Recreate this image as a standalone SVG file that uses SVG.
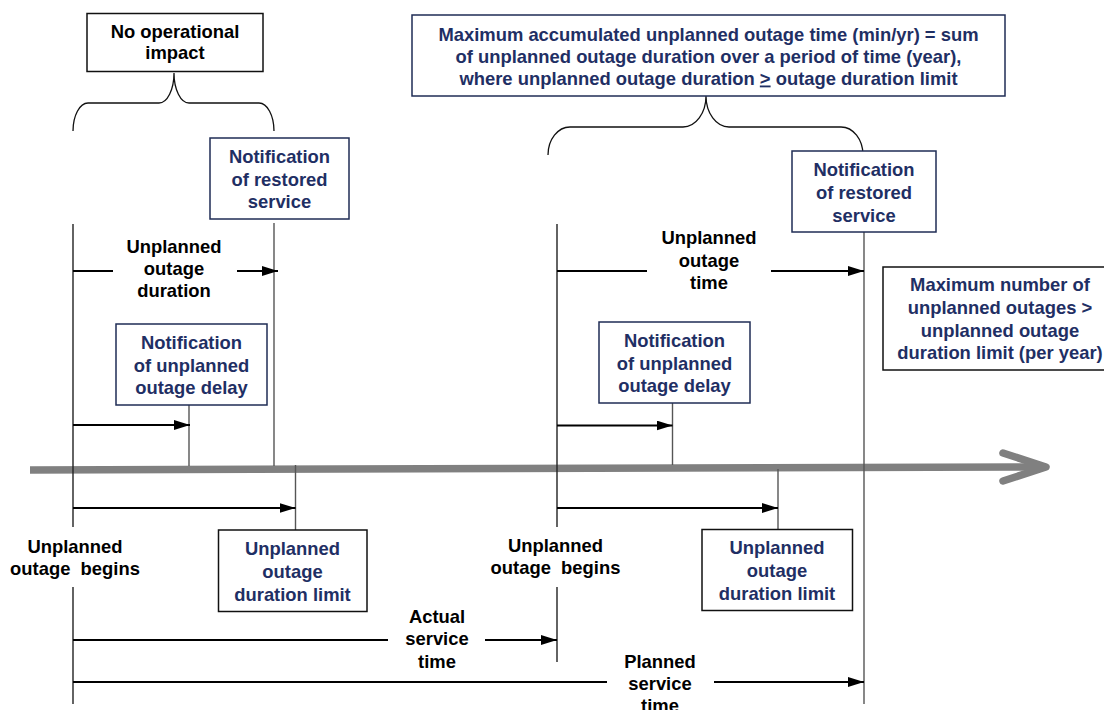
<svg xmlns="http://www.w3.org/2000/svg" width="1104" height="710" viewBox="0 0 1104 710">
  <defs>
    <marker id="arrowhead" markerUnits="userSpaceOnUse" markerWidth="16" markerHeight="10" refX="16" refY="5" orient="auto">
      <path d="M0,0 L16,5 L0,10 z" fill="#000"/>
    </marker>
    <style>
      text { font-family: "Liberation Sans", Arial, sans-serif; font-weight: bold; font-size: 18.4px; text-anchor: middle; }
      .blk { fill: #000; }
      .blu { fill: #1F2F64; }
      .box-b { fill: #fff; stroke: #1F2D55; stroke-width: 1.5; }
      .box-k { fill: #fff; stroke: #111; stroke-width: 1.5; }
      .brace { fill: none; stroke: #111; stroke-width: 1.3; }
      .tick { stroke: #555; stroke-width: 1.4; fill: none; }
      .tick-d { stroke: #222; stroke-width: 1.4; fill: none; }
      .span { stroke: #000; stroke-width: 2; fill: none; }
      .span-a { stroke: #000; stroke-width: 2; fill: none; marker-end: url(#arrowhead); }
      .axis { stroke: #808080; stroke-width: 7.5; fill: none; stroke-linecap: round; stroke-linejoin: round; }
      .pre { white-space: pre; }
    </style>
  </defs>

  <!-- time axis -->
  <g id="time-axis">
    <line class="axis" x1="30" y1="470" x2="1043" y2="467" style="stroke-linecap:butt"/>
    <polyline class="axis" points="1003,453 1046,467 1003,481"/>
  </g>

  <!-- connectors: event markers, braces and duration arrows -->
  <g id="connectors">
    <!-- vertical event markers -->
    <line class="tick-d" x1="73" y1="224" x2="73" y2="527"/>
    <line class="tick-d" x1="73" y1="587" x2="73" y2="704"/>
    <line class="tick" x1="189" y1="405" x2="189" y2="466"/>
    <line class="tick" x1="274" y1="223" x2="274" y2="466"/>
    <line class="tick" x1="295.5" y1="465" x2="295.5" y2="530"/>
    <line class="tick-d" x1="557" y1="224" x2="557" y2="527"/>
    <line class="tick-d" x1="557" y1="587" x2="557" y2="662"/>
    <line class="tick" x1="672.5" y1="403" x2="672.5" y2="465"/>
    <line class="tick" x1="778" y1="469" x2="778" y2="529"/>
    <line class="tick" x1="864" y1="232" x2="864" y2="704"/>

    <!-- braces -->
    <path class="brace" d="M73,131 A15,28 0 0 1 88,103 L159,103 A15,30 0 0 0 174,73 A15,30 0 0 0 189,103 L259,103 A15,28 0 0 1 274,131"/>
    <path class="brace" d="M548,155 A22,28 0 0 1 570,127 L683,127 A23,31 0 0 0 706,96 A23,31 0 0 0 729,127 L841,127 A22,28 0 0 1 863,155"/>

    <!-- duration arrows -->
    <line class="span" x1="73" y1="271" x2="113" y2="271"/>
    <line class="span-a" x1="237" y1="271" x2="278" y2="271"/>
    <line class="span" x1="557" y1="271" x2="647" y2="271"/>
    <line class="span-a" x1="771" y1="271" x2="864" y2="271"/>
    <line class="span-a" x1="73" y1="425" x2="190" y2="425"/>
    <line class="span-a" x1="557" y1="425.5" x2="672.5" y2="425.5"/>
    <line class="span-a" x1="73" y1="508" x2="295.5" y2="508"/>
    <line class="span-a" x1="557" y1="508" x2="778" y2="508"/>
    <line class="span" x1="73" y1="640" x2="388" y2="640"/>
    <line class="span-a" x1="485" y1="640" x2="557" y2="640"/>
    <line class="span" x1="73" y1="682" x2="607" y2="682"/>
    <line class="span-a" x1="714" y1="682" x2="864" y2="682"/>
  </g>

  <!-- boxed notes -->
  <g id="no-operational-impact">
    <rect class="box-k" x="87" y="13.5" width="176" height="58"/>
    <text class="blk" x="175" y="37.5">No operational</text>
    <text class="blk" x="175" y="59">impact</text>
  </g>

  <g id="max-accumulated-outage">
    <rect class="box-b" x="412" y="15" width="593" height="81"/>
    <text class="blu" x="708.5" y="40.5">Maximum accumulated unplanned outage time (min/yr) = sum</text>
    <text class="blu" x="708.5" y="62.5">of unplanned outage duration over a period of time (year),</text>
    <text class="blu" x="708.5" y="84.5">where unplanned outage duration <tspan text-decoration="underline">&gt;</tspan> outage duration limit</text>
  </g>

  <g id="restored-service-1">
    <rect class="box-b" x="210" y="138" width="139" height="81"/>
    <text class="blu" x="279.5" y="163">Notification</text>
    <text class="blu" x="279.5" y="185.5">of restored</text>
    <text class="blu" x="279.5" y="208">service</text>
  </g>

  <g id="restored-service-2">
    <rect class="box-b" x="792" y="151" width="144" height="81"/>
    <text class="blu" x="864" y="176">Notification</text>
    <text class="blu" x="864" y="199">of restored</text>
    <text class="blu" x="864" y="221.5">service</text>
  </g>

  <g id="outage-delay-1">
    <rect class="box-b" x="116" y="324" width="151" height="81"/>
    <text class="blu" x="191.5" y="349">Notification</text>
    <text class="blu" x="191.5" y="371.5">of unplanned</text>
    <text class="blu" x="191.5" y="394">outage delay</text>
  </g>

  <g id="outage-delay-2">
    <rect class="box-b" x="599" y="322" width="151" height="81"/>
    <text class="blu" x="674.5" y="347">Notification</text>
    <text class="blu" x="674.5" y="369.5">of unplanned</text>
    <text class="blu" x="674.5" y="392">outage delay</text>
  </g>

  <g id="max-outage-count">
    <rect class="box-k" x="883" y="267" width="234" height="103"/>
    <text class="blu" x="1000" y="291">Maximum number of</text>
    <text class="blu" x="1000" y="313.5">unplanned outages &gt;</text>
    <text class="blu" x="1000" y="336.5">unplanned outage</text>
    <text class="blu" x="1000" y="358.5">duration limit (per year)</text>
  </g>

  <g id="duration-limit-1">
    <rect class="box-k" x="218.5" y="530" width="148.5" height="81.5"/>
    <text class="blu" x="292.5" y="555">Unplanned</text>
    <text class="blu" x="292.5" y="577.5">outage</text>
    <text class="blu" x="292.5" y="600.5">duration limit</text>
  </g>

  <g id="duration-limit-2">
    <rect class="box-k" x="702" y="529.5" width="150.5" height="81"/>
    <text class="blu" x="777" y="554">Unplanned</text>
    <text class="blu" x="777" y="576.5">outage</text>
    <text class="blu" x="777" y="599.5">duration limit</text>
  </g>

  <!-- free labels -->
  <g id="label-outage-duration">
    <text class="blk" x="174" y="252.5">Unplanned</text>
    <text class="blk" x="174" y="274.5">outage</text>
    <text class="blk" x="174" y="296.5">duration</text>
  </g>

  <g id="label-outage-time">
    <text class="blk" x="709" y="244">Unplanned</text>
    <text class="blk" x="709" y="266.5">outage</text>
    <text class="blk" x="709" y="289">time</text>
  </g>

  <g id="label-outage-begins-1">
    <text class="blk" x="75" y="553">Unplanned</text>
    <text class="blk pre" x="75" y="575">outage  begins</text>
  </g>

  <g id="label-outage-begins-2">
    <text class="blk" x="555.5" y="552">Unplanned</text>
    <text class="blk pre" x="555.5" y="574">outage  begins</text>
  </g>

  <g id="label-actual-service">
    <text class="blk" x="437" y="622.5">Actual</text>
    <text class="blk" x="437" y="645">service</text>
    <text class="blk" x="437" y="668">time</text>
  </g>

  <g id="label-planned-service">
    <text class="blk" x="660" y="667.5">Planned</text>
    <text class="blk" x="660" y="690">service</text>
    <text class="blk" x="660" y="712">time</text>
  </g>
</svg>
